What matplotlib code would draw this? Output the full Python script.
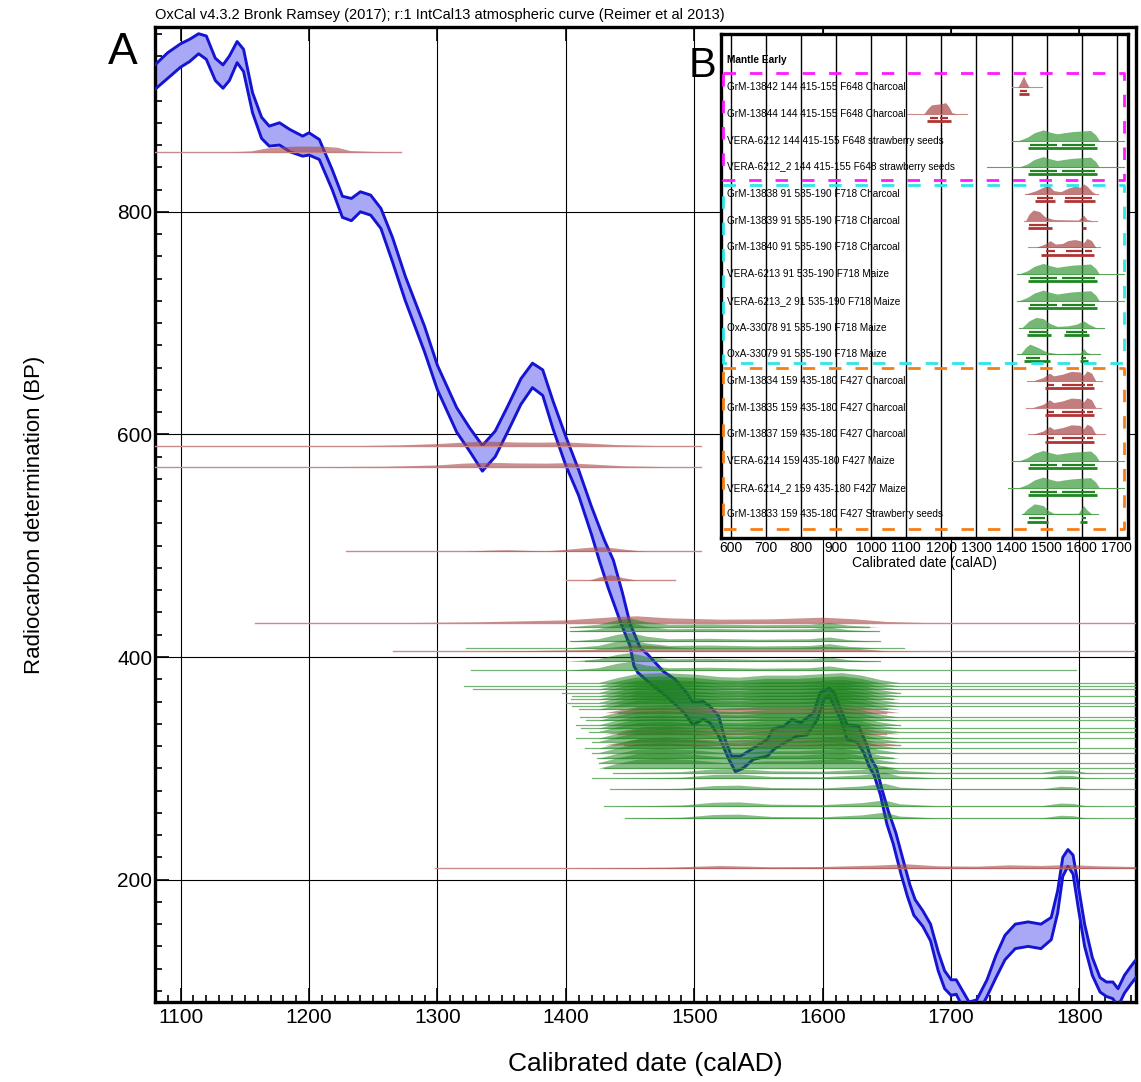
import numpy as np
import matplotlib.pyplot as plt
from matplotlib.ticker import MultipleLocator

plt.rcParams['font.family'] = ['Liberation Sans', 'DejaVu Sans']

# calibration curve, upper and lower 1-sigma edges (calAD, BP)
hi_year = [1080, 1090, 1100, 1107, 1114, 1120, 1127, 1133, 1138, 1144, 1149, 1156, 1163, 1169, 1177,
           1185, 1195, 1200, 1208, 1218, 1226, 1233, 1240, 1248, 1256, 1265, 1275, 1290, 1300, 1315,
           1325, 1335, 1345, 1355, 1365, 1374, 1382, 1390, 1400, 1410, 1420, 1430, 1437, 1444, 1450,
           1458, 1464, 1476, 1485, 1494, 1499, 1507, 1512, 1519, 1524, 1529, 1536, 1546, 1557, 1561,
           1570, 1576, 1583, 1593, 1598, 1605, 1609, 1614, 1619, 1628, 1634, 1638, 1642, 1646, 1651,
           1657, 1664, 1668, 1672, 1678, 1684, 1690, 1695, 1700, 1704, 1708, 1714, 1720, 1728, 1735,
           1742, 1750, 1760, 1770, 1778, 1783, 1787, 1791, 1795, 1799, 1804, 1810, 1816, 1821, 1826,
           1830, 1835, 1840, 1844]
hi_bp = [932, 943, 951, 955, 960, 958, 938, 932, 940, 953, 946, 907, 885, 877, 880,
         874, 868, 871, 865, 838, 814, 812, 818, 815, 803, 777, 742, 697, 662, 624,
         606, 590, 603, 626, 650, 664, 658, 630, 598, 568, 535, 505, 487, 458, 430,
         408, 402, 387, 380, 368, 359, 360, 356, 347, 326, 311, 311, 318, 326, 335,
         338, 344, 341, 350, 368, 372, 368, 353, 339, 338, 322, 308, 300, 282, 262,
         242, 212, 195, 182, 172, 160, 135, 118, 110, 110, 102, 90, 92, 110, 132,
         150, 160, 162, 160, 166, 190, 220, 227, 222, 195, 160, 130, 112, 108, 108,
         102, 114, 122, 128]
lo_year = [1080, 1090, 1100, 1107, 1114, 1120, 1127, 1133, 1138, 1144, 1149, 1156, 1163, 1169, 1177,
           1185, 1195, 1200, 1208, 1218, 1226, 1233, 1240, 1248, 1256, 1265, 1275, 1290, 1300, 1315,
           1325, 1335, 1345, 1355, 1365, 1374, 1382, 1390, 1400, 1410, 1420, 1426, 1433, 1443, 1450,
           1453, 1456, 1468, 1478, 1492, 1499, 1507, 1512, 1519, 1527, 1532, 1538, 1546, 1557, 1562,
           1572, 1580, 1588, 1596, 1601, 1605, 1609, 1614, 1619, 1627, 1632, 1636, 1640, 1645, 1650,
           1655, 1661, 1666, 1671, 1678, 1684, 1690, 1695, 1700, 1704, 1708, 1714, 1720, 1728, 1735,
           1742, 1750, 1760, 1770, 1778, 1783, 1787, 1791, 1795, 1799, 1804, 1810, 1816, 1821, 1826,
           1830, 1835, 1840, 1844]
lo_bp = [910, 920, 930, 935, 942, 937, 918, 911, 918, 934, 926, 889, 866, 859, 860,
         854, 850, 851, 847, 820, 795, 792, 800, 797, 785, 755, 720, 674, 640, 602,
         585, 567, 580, 603, 627, 642, 635, 605, 572, 545, 510, 487, 462, 430, 410,
         392, 386, 374, 365, 350, 339, 344, 341, 329, 308, 297, 300, 308, 311, 317,
         324, 329, 330, 344, 362, 365, 356, 344, 326, 323, 314, 302, 294, 276, 250,
         232, 205, 185, 168, 158, 145, 118, 102, 96, 97, 88, 75, 78, 95, 112,
         128, 138, 140, 138, 146, 170, 203, 212, 205, 175, 140, 114, 99, 95, 93,
         86, 98, 106, 112]

# calibrated probability shapes (calAD, relative height)
shapes = {
    'r854': [(1140, 0), (1155, .15), (1165, .6), (1175, .9), (1190, 1), (1210, 1), (1222, .8), (1232, .2), (1250, .05), (1270, 0)],
    'r590': [(1240, 0), (1270, .15), (1300, .45), (1325, .85), (1340, 1), (1360, .8), (1380, .75), (1398, .85), (1415, .6), (1440, .2), (1470, 0)],
    'r571': [(1200, 0), (1260, .1), (1300, .4), (1320, .8), (1340, 1), (1360, .85), (1385, .8), (1400, .9), (1420, .6), (1445, .2), (1480, 0)],
    'r495': [(1320, 0), (1340, .25), (1355, .35), (1370, .2), (1385, .1), (1400, .45), (1420, .95), (1430, 1), (1445, .5), (1460, .05), (1470, 0)],
    'r469': [(1418, 0), (1426, .6), (1435, 1), (1444, .5), (1455, 0)],
    'r431': [(1280, 0), (1330, .1), (1400, .4), (1440, .9), (1455, 1), (1480, .7), (1520, .5), (1560, .55), (1600, .8), (1625, .55), (1650, .15), (1680, 0)],
    'r405': [(1330, 0), (1420, .3), (1448, .9), (1460, 1), (1490, .6), (1530, .45), (1570, .5), (1600, .75), (1625, .5), (1650, .1), (1680, 0)],
    'rmass': [(1430, 0), (1445, .4), (1460, .8), (1480, .9), (1500, .7), (1520, .5), (1540, .6), (1560, .8), (1580, .8), (1600, .9), (1615, 1), (1630, .7), (1645, .3), (1660, 0)],
    'r210': [(1400, 0), (1480, .2), (1520, .45), (1560, .25), (1600, .3), (1640, .5), (1665, .7), (1690, .4), (1720, .35), (1745, .55), (1770, .45), (1790, .6), (1815, .4), (1844, .3)],
    'gup': [(1400, 0), (1425, .3), (1440, .8), (1450, 1), (1462, .6), (1480, .3), (1510, .35), (1550, .25), (1590, .3), (1605, .5), (1620, .2), (1645, 0)],
    'gmass': [(1425, 0), (1440, .5), (1455, .9), (1475, 1), (1500, .85), (1520, .6), (1535, .55), (1555, .75), (1580, .75), (1600, .9), (1615, 1), (1630, .75), (1645, .3), (1660, 0)],
    'glow': [(1440, 0), (1490, .15), (1515, .5), (1535, .55), (1560, .25), (1600, .2), (1630, .45), (1648, .8), (1660, .3), (1690, .05), (1770, .05), (1785, .4), (1795, .35), (1805, .05), (1820, 0)],
}

# dates in panel A: charcoal (red)
c_bp = [854, 590, 571, 495, 469, 431, 405, 350, 331, 321, 210]
c_start = [1080, 1080, 1080, 1229, 1400, 1158, 1265, 1441, 1441, 1445, 1298]
c_end = [1272, 1505, 1505, 1505, 1485, 1844, 1844, 1649, 1649, 1660, 1844]
c_shape = ['r854', 'r590', 'r571', 'r495', 'r469', 'r431', 'r405', 'rmass', 'rmass', 'rmass', 'r210']
c_height = [5, 4, 4, 4, 5, 6, 6, 8, 8, 8, 6]

# dates in panel A: maize / seeds (green)
g_bp = [427, 423, 414, 408, 396, 388,
        377, 374, 371, 368, 365, 362, 359, 356, 353, 346, 343, 339, 336, 333, 327, 324, 318, 314, 309, 305, 300,
        296, 291, 281, 266, 255]
g_start = [1403, 1403, 1403, 1322, 1415, 1326,
           1400, 1321, 1328, 1397, 1405, 1404, 1400, 1405, 1410, 1411, 1416, 1408, 1412, 1418, 1408, 1420, 1415, 1420, 1424, 1426, 1430,
           1437, 1420, 1434, 1430, 1446]
g_end = [1636, 1644, 1645, 1663, 1645, 1797,
         1844, 1844, 1844, 1660, 1844, 1655, 1844, 1844, 1650, 1844, 1844, 1660, 1844, 1844, 1844, 1797, 1844, 1844, 1655, 1844, 1844,
         1844, 1844, 1844, 1844, 1844]
g_shape = ['gup'] * 6 + ['gmass'] * 21 + ['glow'] * 5
g_height = [8] * 6 + [9] * 21 + [7] * 5

# panel B rows
b_labels = ["GrM-13842 144 415-155 F648 Charcoal",
            "GrM-13844 144 415-155 F648 Charcoal",
            "VERA-6212 144 415-155 F648 strawberry seeds",
            "VERA-6212_2 144 415-155 F648 strawberry seeds",
            "GrM-13838 91 535-190 F718 Charcoal",
            "GrM-13839 91 535-190 F718 Charcoal",
            "GrM-13840 91 535-190 F718 Charcoal",
            "VERA-6213 91 535-190 F718 Maize",
            "VERA-6213_2 91 535-190 F718 Maize",
            "OxA-33078 91 535-190 F718 Maize",
            "OxA-33079 91 535-190 F718 Maize",
            "GrM-13834 159 435-180 F427 Charcoal",
            "GrM-13835 159 435-180 F427 Charcoal",
            "GrM-13837 159 435-180 F427 Charcoal",
            "VERA-6214 159 435-180 F427 Maize",
            "VERA-6214_2 159 435-180 F427 Maize",
            "GrM-13833 159 435-180 F427 Strawberry seeds"]
b_kind = ['c', 'c', 'g', 'g', 'c', 'c', 'c', 'g', 'g', 'g', 'g', 'c', 'c', 'c', 'g', 'g', 'g']
b_start = [1400, 1101, 1400, 1329, 1438, 1434, 1448, 1415, 1415, 1420, 1415, 1443, 1440, 1448, 1400, 1390, 1430]
b_end = [1486, 1272, 1719, 1719, 1647, 1643, 1652, 1719, 1719, 1662, 1652, 1657, 1655, 1665, 1719, 1719, 1645]
b_shapes = {
    'i13842': [(1418, 0), (1428, .6), (1434, 1), (1441, .5), (1450, 0)],
    'i13844': [(1150, 0), (1162, .5), (1172, .8), (1185, .85), (1200, .9), (1212, 1), (1222, .6), (1230, .1), (1245, 0)],
    'ivera': [(1420, 0), (1445, .3), (1465, .7), (1490, .95), (1510, .75), (1530, .6), (1550, .7), (1575, .8), (1600, .85), (1625, .9), (1640, .5), (1650, 0)],
    'i13838': [(1440, 0), (1470, .3), (1490, .6), (1505, .8), (1520, .3), (1540, .2), (1560, .5), (1580, .7), (1595, .6), (1605, .9), (1615, .7), (1630, .2), (1640, 0)],
    'i13839': [(1440, 0), (1450, .6), (1462, .95), (1480, .8), (1495, .35), (1520, .1), (1590, .05), (1605, .5), (1615, .1), (1630, 0)],
    'i13840': [(1470, 0), (1495, .3), (1510, .6), (1525, .3), (1545, .35), (1560, .6), (1580, .7), (1595, .6), (1605, .4), (1615, .8), (1628, .6), (1640, 0)],
    'ioxa78': [(1430, 0), (1450, .6), (1470, .9), (1490, .8), (1510, .35), (1530, .1), (1560, .15), (1585, .3), (1605, .6), (1620, .3), (1640, 0)],
    'ioxa79': [(1425, 0), (1440, .6), (1452, .9), (1475, .6), (1500, .2), (1530, .05), (1595, .1), (1605, .5), (1615, .15), (1630, 0)],
    'if427': [(1460, 0), (1490, .3), (1508, .7), (1520, .45), (1545, .6), (1570, .85), (1595, .8), (1605, .5), (1615, .9), (1628, .7), (1640, 0)],
    'i13833': [(1430, 0), (1445, .5), (1465, .95), (1490, .8), (1505, .35), (1520, .1), (1590, .1), (1605, .8), (1615, .4), (1630, 0)],
}
b_shape = ['i13842', 'i13844', 'ivera', 'ivera', 'i13838', 'i13839', 'i13840', 'ivera', 'ivera',
           'ioxa78', 'ioxa79', 'if427', 'if427', 'if427', 'ivera', 'ivera', 'i13833']
vera68 = [(1453, 1529), (1543, 1638)]
vera95 = [(1448, 1643)]
f427_68 = [(1505, 1520), (1545, 1610), (1615, 1632)]
f427_95 = [(1495, 1635)]
b_r68 = [[(1424, 1443)], [(1168, 1190), (1195, 1220)], vera68, vera68,
         [(1472, 1519), (1552, 1628)], [(1450, 1500)], [(1498, 1525), (1555, 1600), (1610, 1630)],
         vera68, vera68, [(1450, 1505), (1555, 1615)], [(1440, 1480), (1598, 1612)],
         f427_68, f427_68, f427_68, vera68, vera68, [(1450, 1495), (1600, 1612)]]
b_r95 = [[(1420, 1450)], [(1160, 1228)], vera95, vera95,
         [(1466, 1525), (1548, 1638)], [(1446, 1515), (1600, 1612)], [(1485, 1635)],
         vera95, vera95, [(1445, 1512), (1550, 1622)], [(1435, 1510), (1595, 1618)],
         f427_95, f427_95, f427_95, vera95, vera95, [(1445, 1505), (1595, 1615)]]
# phase boxes: (first row edge, last row edge, colour)
boxes = [(0.48, 4.48, '#ff1aff'), (4.67, 11.34, '#2ee6e6'), (11.52, 17.56, '#f57f17')]

fig = plt.figure(figsize=(11.41, 10.82), dpi=100)
ax = fig.add_axes([0.1358, 0.0739, 0.8598, 0.9011])

RED_FILL, RED_LINE = '#a84848', '#c98a8a'
GRN_FILL, GRN_LINE = '#157f15', '#5aa55a'

# calibration curve
ax.fill(np.r_[hi_year, lo_year[::-1]], np.r_[hi_bp, lo_bp[::-1]], color='#a8a8f6', lw=0, zorder=2)
ax.plot(hi_year, hi_bp, color='#1414d2', lw=2.1, zorder=3, solid_joinstyle='round')
ax.plot(lo_year, lo_bp, color='#1414d2', lw=2.1, zorder=3, solid_joinstyle='round')

for bp, s, e, sh, h in zip(c_bp, c_start, c_end, c_shape, c_height):
    xs, ys = zip(*shapes[sh])
    ax.plot([s, e], [bp, bp], color=RED_LINE, lw=1.0, zorder=4)
    ax.fill_between(xs, bp, bp + h * np.array(ys), color=RED_FILL, alpha=0.6, lw=0, zorder=4)

for bp, s, e, sh, h in zip(g_bp, g_start, g_end, g_shape, g_height):
    xs, ys = zip(*shapes[sh])
    ax.plot([s, e], [bp, bp], color=GRN_LINE, lw=0.9, alpha=0.85, zorder=5)
    ax.fill_between(xs, bp, bp + h * np.array(ys), color=GRN_FILL, alpha=0.5, lw=0, zorder=5)

ax.set_xlim(1080, 1844)
ax.set_ylim(90, 966)
ax.xaxis.set_major_locator(MultipleLocator(100))
ax.xaxis.set_minor_locator(MultipleLocator(10))
ax.yaxis.set_major_locator(MultipleLocator(200))
ax.yaxis.set_minor_locator(MultipleLocator(20))
ax.grid(True, which='major', color='black', lw=0.8)
ax.set_axisbelow(True)
ax.tick_params(which='both', direction='in', labelsize=15, width=1.2, pad=4)
ax.tick_params(which='major', length=10, top=True)
ax.tick_params(which='minor', length=5)
ax.tick_params(axis='y', pad=2)
for sp in ax.spines.values():
    sp.set_linewidth(2.4)
ax.set_xlabel('Calibrated date (calAD)', fontsize=19, labelpad=18)
ax.set_ylabel('Radiocarbon determination (BP)', fontsize=16, labelpad=52)

fig.text(155 / 1141, 1 - 15 / 1082, 'OxCal v4.3.2 Bronk Ramsey (2017); r:1 IntCal13 atmospheric curve (Reimer et al 2013)',
         fontsize=10.5, ha='left', va='center')
fig.text(123 / 1141, 1 - 52 / 1082, 'A', fontsize=32, ha='center', va='center')

# inset B
ax2 = fig.add_axes([0.6317, 0.5028, 0.357, 0.4658], zorder=10)
ax2.set_facecolor('white')
ax2.set_xlim(571.5, 1732)
ax2.set_ylim(17.88, -0.99)
ax2.xaxis.set_major_locator(MultipleLocator(100))
ax2.grid(True, axis='x', color='black', lw=1.0)
ax2.set_axisbelow(True)
ax2.set_yticks([])
ax2.tick_params(axis='x', length=0, labelsize=10, pad=2)
for sp in ax2.spines.values():
    sp.set_linewidth(2.4)
ax2.set_xlabel('Calibrated date (calAD)', fontsize=10, labelpad=1)

ax2.text(589.5, 0, 'Mantle Early', fontsize=7.3, fontweight='bold', va='center', ha='left')
for i, lab in enumerate(b_labels):
    r = i + 1
    fill_c, line_c, bar_c = ((RED_FILL, RED_LINE, '#b03434') if b_kind[i] == 'c'
                             else ('#3a9a3a', GRN_LINE, '#1f861f'))
    ax2.text(589.5, r, lab, fontsize=7.2, va='center', ha='left', zorder=3)
    ax2.plot([b_start[i], b_end[i]], [r, r], color=line_c, lw=0.8, zorder=4)
    xs, ys = zip(*b_shapes[b_shape[i]])
    ax2.fill_between(xs, r, r - 0.42 * np.array(ys), color=fill_c, alpha=0.7, lw=0, zorder=4)
    for a, b in b_r68[i]:
        ax2.plot([a, b], [r + 0.15, r + 0.15], color=bar_c, lw=1.6, solid_capstyle='butt', zorder=4)
    for a, b in b_r95[i]:
        ax2.plot([a, b], [r + 0.27, r + 0.27], color=bar_c, lw=2.0, solid_capstyle='butt', zorder=4)

for y0, y1, col in boxes:
    ax2.plot([579, 1721, 1721, 579, 579], [y0, y0, y1, y1, y0], color=col, lw=2.0,
             ls=(0, (4.5, 5)), zorder=6)

fig.text(703 / 1141, 1 - 66 / 1082, 'B', fontsize=30, ha='center', va='center', zorder=20)

plt.savefig('out.png', dpi=100)
